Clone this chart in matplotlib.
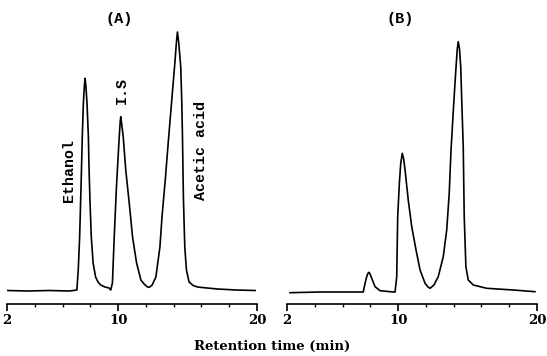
import matplotlib
matplotlib.use("Agg")
import matplotlib.pyplot as plt
from matplotlib.ticker import MultipleLocator

# Panel (A): retention time (min) and detector signal (arbitrary units)
time_a = [2.0, 3.5, 5.0, 6.5, 7.03,
          7.13, 7.23, 7.33, 7.42, 7.50, 7.57, 7.62, 7.68, 7.76, 7.86, 7.91, 7.98,
          8.07, 8.20, 8.38, 8.55, 8.75, 9.05, 9.35, 9.47,
          9.59, 9.72, 9.88, 10.08, 10.15, 10.19, 10.24, 10.37, 10.55, 10.80, 11.04, 11.33,
          11.64, 11.90, 12.12, 12.25,
          12.45, 12.72, 13.01, 13.16, 13.40, 13.60, 13.78, 13.93, 14.08, 14.20, 14.27,
          14.36, 14.51, 14.58, 14.63, 14.70, 14.80, 14.92, 15.11, 15.40, 15.72, 16.40,
          17.16, 18.49, 19.86]
signal_a = [13.5, 13.0, 13.5, 13.0, 14,
            34, 67, 117, 167, 201, 218, 225.7, 218, 201, 167, 134, 101,
            67, 41, 27, 22, 19, 17, 16, 14,
            21, 67, 117, 167, 182, 187.3, 182, 167, 134, 101, 67, 41,
            24, 19.5, 17, 16.7,
            19, 27, 57, 87, 125, 160, 190, 215, 240, 262, 272,
            262, 237, 204, 171, 107, 57, 34, 22, 18.5, 17, 16,
            15, 14, 13.5]

# Panel (B)
time_b = [2.22, 4.38, 6.18, 7.40,
          7.49, 7.62, 7.74, 7.82, 7.90, 7.98, 8.10, 8.34, 8.70, 9.65,
          9.78, 9.90, 9.97, 10.09, 10.19, 10.30, 10.40, 10.50, 10.73, 10.98, 11.29, 11.58, 11.94,
          12.15, 12.30,
          12.58, 12.89, 13.25, 13.50, 13.68, 13.81, 14.02, 14.17, 14.26, 14.33, 14.42, 14.51,
          14.58, 14.69, 14.76, 14.88, 15.05, 15.41, 16.38, 18.29, 19.85]
signal_b = [11.3, 12, 12, 12,
            12, 20.7, 27.3, 30.5, 31.7, 30, 25.7, 17.3, 13.3, 12,
            12, 27.3, 87.3, 120.7, 140.7, 150.7, 145, 134, 104, 77.3, 54, 34, 20.7,
            17, 15.7,
            19, 27.3, 47.3, 74, 110.7, 154, 204, 237, 255, 262.3, 255, 237,
            204, 157, 87.3, 37.3, 24, 19, 15.7, 14, 12.3]

xticks = [2, 10, 20]
xtick_labels = ["2", "10", "20"]
panel_titles = ["(A)", "(B)"]
peak_labels = ["Ethanol", "I.S", "Acetic acid"]
peak_label_time = [6.48, 10.24, 15.96]
peak_label_height = [133, 213, 153]
xlabel = "Retention time (min)"

W, H = 547, 356
fig = plt.figure(figsize=(W / 100, H / 100), dpi=100)

serif_bold = dict(family="DejaVu Serif", weight="bold")
mono_bold = dict(family="Liberation Mono", weight="bold")

panels = [(7, time_a, signal_a), (287, time_b, signal_b)]
axes = []
for left_px, t, s in panels:
    ax = fig.add_axes([left_px / W, (H - 304) / H, 250 / W, 284 / H])
    ax.plot(t, s, color="black", lw=1.2, solid_joinstyle="round")
    ax.set_xlim(2, 20)
    ax.set_ylim(0, 284)
    for sp in ("top", "right", "left"):
        ax.spines[sp].set_visible(False)
    ax.spines["bottom"].set_linewidth(1.2)
    ax.set_yticks([])
    ax.set_xticks(xticks)
    ax.set_xticklabels(xtick_labels, fontdict=dict(size=9.5, **serif_bold))
    ax.xaxis.set_minor_locator(MultipleLocator(2))
    ax.tick_params(axis="x", which="major", length=5, width=1.2, pad=2.5)
    ax.tick_params(axis="x", which="minor", length=2.5, width=1.0)
    ax.patch.set_visible(False)
    axes.append(ax)

for ax, title, xc in zip(axes, panel_titles, [119, 400]):
    fig.text(xc / W, 1 - 19 / H, title, ha="center", va="center", fontsize=11, **mono_bold)

for lab, t, h in zip(peak_labels, peak_label_time, peak_label_height):
    axes[0].text(t, h, lab, rotation=90, ha="center", va="center", fontsize=10.8, **mono_bold)

fig.text(272 / W, 1 - 346 / H, xlabel, ha="center", va="center", fontsize=9.5, **serif_bold)

fig.savefig("out.png", dpi=100)
